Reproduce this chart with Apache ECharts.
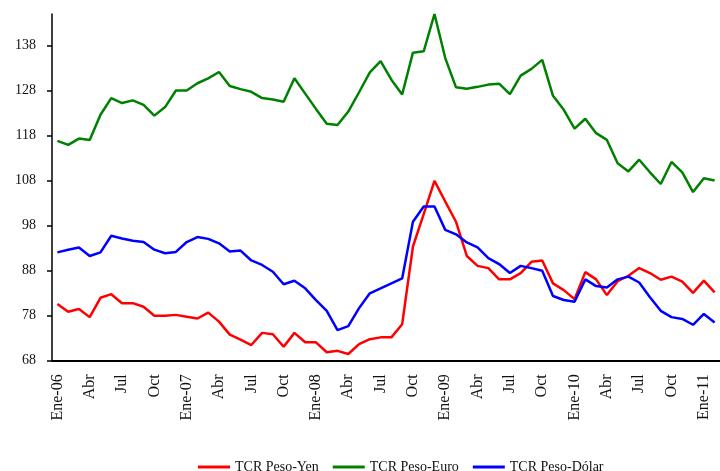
<!DOCTYPE html>
<html>
<head>
<meta charset="utf-8">
<script src="https://cdn.jsdelivr.net/npm/echarts@6/dist/echarts.min.js"></script>
<style>
  html, body { margin: 0; padding: 0; background: #fff; }
  #myChart { width: 720px; height: 471px; }
</style>
</head>
<body>
<div id="myChart"></div>
<script>
// meses, Ene-06 a Feb-11
var months = [
  'Ene-06','Feb','Mar','Abr','May','Jun','Jul','Ago','Sep','Oct','Nov','Dic',
  'Ene-07','Feb','Mar','Abr','May','Jun','Jul','Ago','Sep','Oct','Nov','Dic',
  'Ene-08','Feb','Mar','Abr','May','Jun','Jul','Ago','Sep','Oct','Nov','Dic',
  'Ene-09','Feb','Mar','Abr','May','Jun','Jul','Ago','Sep','Oct','Nov','Dic',
  'Ene-10','Feb','Mar','Abr','May','Jun','Jul','Ago','Sep','Oct','Nov','Dic',
  'Ene-11','Feb'
];

var pesoYen = [
  80.5, 78.8, 79.4, 77.6, 81.9, 82.7, 80.7, 80.7, 79.9, 77.9, 77.9, 78.1,
  77.7, 77.3, 78.6, 76.6, 73.7, 72.6, 71.4, 74.1, 73.8, 71.0, 74.1, 72.0,
  72.0, 69.8, 70.1, 69.4, 71.6, 72.7, 73.1, 73.1, 76.0, 93.3, 100.5, 107.9,
  103.3, 98.8, 91.2, 89.0, 88.5, 86.0, 86.0, 87.4, 89.9, 90.2, 85.1, 83.6,
  81.6, 87.6, 86.0, 82.5, 85.6, 86.8, 88.5, 87.4, 85.9, 86.6, 85.5, 83.0,
  85.7, 83.1
];

var pesoEuro = [
  116.8, 115.9, 117.3, 117.0, 122.6, 126.3, 125.2, 125.8, 124.8, 122.4, 124.3, 128.0,
  128.0, 129.6, 130.7, 132.1, 129.0, 128.3, 127.7, 126.3, 126.0, 125.5, 130.7, 127.3,
  123.9, 120.6, 120.3, 123.3, 127.6, 132.0, 134.5, 130.4, 127.1, 136.4, 136.7, 145.0,
  135.2, 128.7, 128.4, 128.8, 129.3, 129.5, 127.2, 131.3, 132.8, 134.8, 126.8, 123.7,
  119.5, 121.7, 118.5, 117.0, 111.8, 110.0, 112.6, 109.8, 107.2, 112.1, 109.8, 105.4,
  108.5, 108.0
];

var pesoDolar = [
  92.0, 92.6, 93.1, 91.2, 92.0, 95.7, 95.1, 94.6, 94.3, 92.6, 91.8, 92.1,
  94.3, 95.4, 95.0, 94.0, 92.2, 92.4, 90.2, 89.2, 87.7, 84.9, 85.7, 84.0,
  81.4, 79.0, 74.7, 75.6, 79.6, 82.9, 84.0, 85.1, 86.2, 98.8, 102.2, 102.2,
  97.0, 96.0, 94.2, 93.1, 90.7, 89.4, 87.4, 89.0, 88.5, 87.9, 82.3, 81.4,
  81.0, 86.0, 84.5, 84.2, 86.0, 86.6, 85.3, 82.0, 79.0, 77.6, 77.2, 75.9,
  78.3, 76.4
];

var yTicks = [68, 78, 88, 98, 108, 118, 128, 138];

var myChart = echarts.init(document.getElementById('myChart'));
var fontFam = '"Liberation Serif", "DejaVu Serif", serif';

var option = {
  animation: false,
  textStyle: { fontFamily: fontFam, color: '#000' },
  grid: { left: 52, top: 14, width: 671.5, height: 346.3 },
  legend: {
    left: 193,
    top: 455,
    itemWidth: 32,
    itemHeight: 3,
    itemGap: 14,
    icon: 'rect',
    textStyle: { fontFamily: fontFam, fontSize: 14, color: '#111' },
    data: ['TCR Peso-Yen', 'TCR Peso-Euro', 'TCR Peso-Dólar']
  },
  xAxis: {
    type: 'category',
    data: months,
    boundaryGap: true,
    axisLine: { lineStyle: { color: '#000', width: 2 } },
    axisTick: { interval: 0, length: 4, lineStyle: { color: '#000', width: 2 } },
    axisLabel: {
      interval: 2,
      rotate: 90,
      margin: 14,
      fontFamily: fontFam,
      fontSize: 16,
      color: '#111'
    },
    splitLine: { show: false }
  },
  yAxis: {
    type: 'value',
    min: 68,
    max: 145,
    axisLine: { show: true, lineStyle: { color: '#000', width: 1.5 } },
    axisTick: { show: true, length: 5, customValues: yTicks, lineStyle: { color: '#000', width: 1.5 } },
    axisLabel: { customValues: yTicks, margin: 16, fontFamily: fontFam, fontSize: 14, color: '#111' },
    splitLine: { show: false }
  },
  series: [
    {
      name: 'TCR Peso-Yen',
      type: 'line',
      data: pesoYen,
      symbol: 'none',
      itemStyle: { color: '#ff0000' },
      lineStyle: { color: '#ff0000', width: 2.5 }
    },
    {
      name: 'TCR Peso-Euro',
      type: 'line',
      data: pesoEuro,
      symbol: 'none',
      itemStyle: { color: '#008000' },
      lineStyle: { color: '#008000', width: 2.5 }
    },
    {
      name: 'TCR Peso-Dólar',
      type: 'line',
      data: pesoDolar,
      symbol: 'none',
      itemStyle: { color: '#0000ff' },
      lineStyle: { color: '#0000ff', width: 2.5 }
    }
  ]
};

myChart.setOption(option);
</script>
</body>
</html>
